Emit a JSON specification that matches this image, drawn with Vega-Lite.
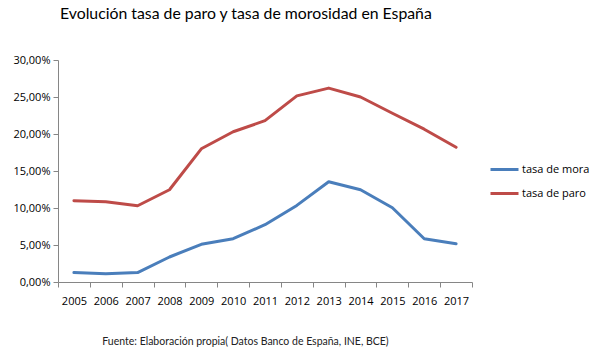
{
  "$schema": "https://vega.github.io/schema/vega-lite/v6.json",
  "width": 414,
  "height": 222,
  "autosize": "none",
  "padding": {"left": 58, "top": 60, "right": 126, "bottom": 78},
  "background": "white",
  "title": {
    "text": "Evolución tasa de paro y tasa de morosidad en España",
    "font": "Lato",
    "fontSize": 15.8,
    "fontWeight": "normal",
    "color": "#000000",
    "anchor": "start",
    "frame": "group",
    "dx": 2,
    "offset": 31
  },
  "config": {
    "view": {"stroke": null},
    "axis": {"labelFont": "Open Sans", "labelFontSize": 11, "labelColor": "#000000", "domainColor": "#868686", "tickColor": "#868686", "grid": false},
    "legend": {"labelFont": "Open Sans", "labelFontSize": 11, "labelColor": "#000000"}
  },
  "data": {
    "values": [
      {"year": "2005", "serie": "tasa de mora", "value": 1.27},
      {"year": "2006", "serie": "tasa de mora", "value": 1.13},
      {"year": "2007", "serie": "tasa de mora", "value": 1.27},
      {"year": "2008", "serie": "tasa de mora", "value": 3.38},
      {"year": "2009", "serie": "tasa de mora", "value": 5.09},
      {"year": "2010", "serie": "tasa de mora", "value": 5.85},
      {"year": "2011", "serie": "tasa de mora", "value": 7.74},
      {"year": "2012", "serie": "tasa de mora", "value": 10.35},
      {"year": "2013", "serie": "tasa de mora", "value": 13.55},
      {"year": "2014", "serie": "tasa de mora", "value": 12.47},
      {"year": "2015", "serie": "tasa de mora", "value": 10.04},
      {"year": "2016", "serie": "tasa de mora", "value": 5.85},
      {"year": "2017", "serie": "tasa de mora", "value": 5.18},
      {"year": "2005", "serie": "tasa de paro", "value": 10.98},
      {"year": "2006", "serie": "tasa de paro", "value": 10.85},
      {"year": "2007", "serie": "tasa de paro", "value": 10.3},
      {"year": "2008", "serie": "tasa de paro", "value": 12.47},
      {"year": "2009", "serie": "tasa de paro", "value": 18.0},
      {"year": "2010", "serie": "tasa de paro", "value": 20.3},
      {"year": "2011", "serie": "tasa de paro", "value": 21.8},
      {"year": "2012", "serie": "tasa de paro", "value": 25.15},
      {"year": "2013", "serie": "tasa de paro", "value": 26.2},
      {"year": "2014", "serie": "tasa de paro", "value": 25.0},
      {"year": "2015", "serie": "tasa de paro", "value": 22.8},
      {"year": "2016", "serie": "tasa de paro", "value": 20.65},
      {"year": "2017", "serie": "tasa de paro", "value": 18.2}
    ]
  },
  "mark": {"type": "line", "strokeWidth": 3, "strokeCap": "round", "strokeJoin": "round"},
  "encoding": {
    "x": {
      "field": "year",
      "type": "ordinal",
      "bandPosition": 0.5,
      "scale": {"type": "band", "paddingInner": 0, "paddingOuter": 0},
      "axis": {
        "labelAngle": 0,
        "tickBand": "extent",
        "tickSize": 5,
        "labelPadding": 8,
        "title": "Fuente:  Elaboración propia( Datos Banco de España, INE, BCE)",
        "titleFont": "Lato",
        "titleFontSize": 10.5,
        "titleFontWeight": "normal",
        "titleColor": "#222222",
        "titlePadding": 30,
        "titleX": 187,
        "titleAnchor": "middle"
      }
    },
    "y": {
      "field": "value",
      "type": "quantitative",
      "scale": {"domain": [0, 30], "nice": false},
      "axis": {
        "values": [0, 5, 10, 15, 20, 25, 30],
        "title": null,
        "tickSize": 5,
        "labelPadding": 3,
        "labelExpr": "replace(format(datum.value, '.2f'), '.', ',') + '%'"
      }
    },
    "color": {
      "field": "serie",
      "type": "nominal",
      "scale": {"domain": ["tasa de mora", "tasa de paro"], "range": ["#4A7EBB", "#BE4B48"]},
      "legend": {
        "title": null,
        "orient": "none",
        "legendX": 431,
        "legendY": 94,
        "symbolType": "stroke",
        "symbolStrokeWidth": 3,
        "symbolSize": 784,
        "rowPadding": 2,
        "labelOffset": 2
      }
    }
  }
}
